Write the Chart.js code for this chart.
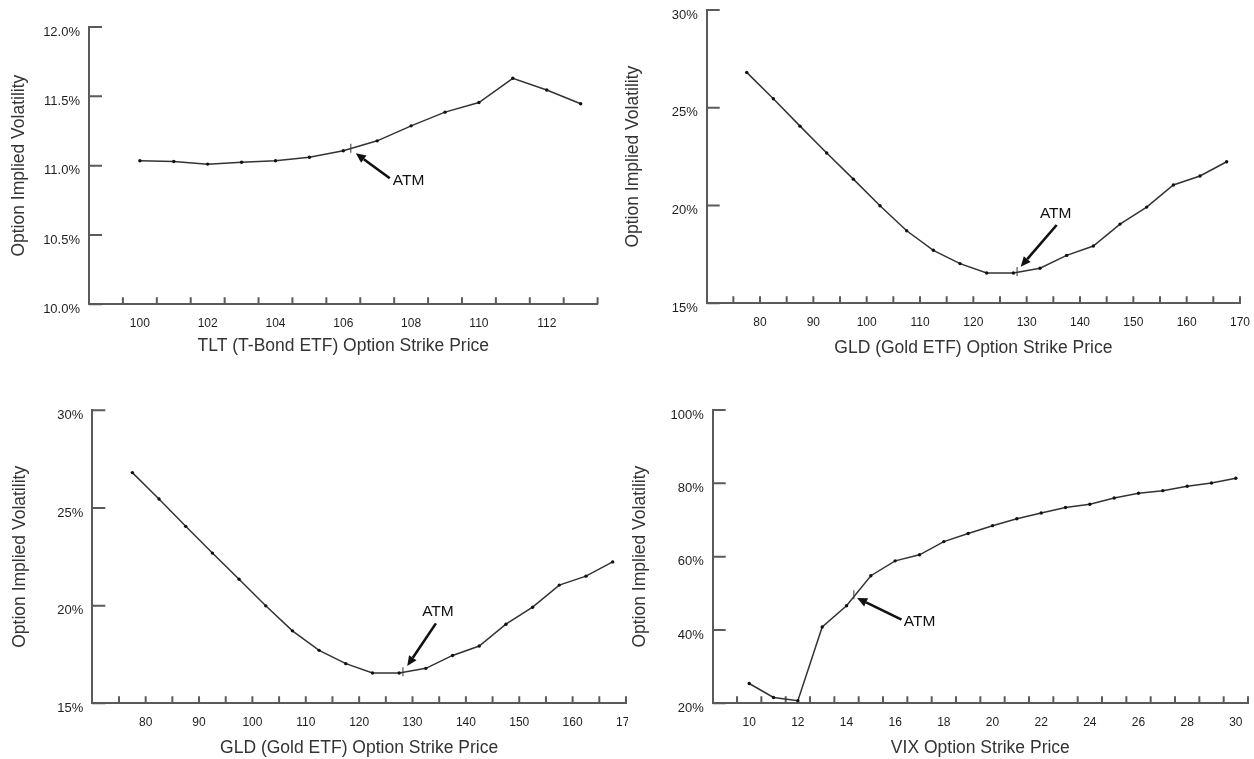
<!DOCTYPE html>
<html>
<head>
<meta charset="utf-8">
<script src="https://cdn.jsdelivr.net/npm/chart.js@4.4.1/dist/chart.umd.min.js"></script>
<style>
  html, body { margin: 0; padding: 0; background: #fff; }
  body { width: 1254px; height: 759px; position: relative; overflow: hidden; }
  .panel { position: absolute; overflow: hidden; }
  canvas { display: block; }
</style>
</head>
<body>
<div class="panel" style="left:0;top:0;width:620px;height:370px"><canvas id="tlt" width="620" height="370"></canvas></div>
<div class="panel" style="left:620px;top:0;width:634px;height:370px"><canvas id="gldTop" width="634" height="370"></canvas></div>
<div class="panel" style="left:0;top:380px;width:628px;height:379px"><canvas id="gldBottom" width="660" height="379"></canvas></div>
<div class="panel" style="left:620px;top:380px;width:634px;height:379px"><canvas id="vix" width="634" height="379"></canvas></div>

<script>
// TLT (T-Bond ETF) skew
const tltStrikes = [100, 101, 102, 103, 104, 105, 106, 107, 108, 109, 110, 111, 112, 113]
const tltVol = [11.035, 11.03, 11.011, 11.025, 11.035, 11.061, 11.107, 11.179, 11.287, 11.386, 11.455, 11.63, 11.546, 11.446]
const tltAtm = [106.22, 11.125]
const tltXLabels = [100, 102, 104, 106, 108, 110, 112]
const tltXMarks = [99.5, 100.5, 101.5, 102.5, 103.5, 104.5, 105.5, 106.5, 107.5, 108.5, 109.5, 110.5, 111.5, 112.5, 113.5]
const tltYLabels = [10, 10.5, 11, 11.5, 12]

// GLD (Gold ETF) skew
const gldStrikes = [77.5, 82.5, 87.5, 92.5, 97.5, 102.5, 107.5, 112.5, 117.5, 122.5, 127.5, 132.5, 137.5, 142.5, 147.5, 152.5, 157.5, 162.5, 167.5]
const gldVol = [26.81, 25.46, 24.06, 22.69, 21.35, 19.99, 18.71, 17.71, 17.03, 16.55, 16.55, 16.79, 17.45, 17.93, 19.05, 19.92, 21.05, 21.51, 22.24]
const gldAtm = [128.2, 16.62]
const gldXLabels = [80, 90, 100, 110, 120, 130, 140, 150, 160, 170]
const gldXMarks = [75, 80, 85, 90, 95, 100, 105, 110, 115, 120, 125, 130, 135, 140, 145, 150, 155, 160, 165, 170]
const gldYLabels = [15, 20, 25, 30]

// VIX skew
const vixStrikes = [10, 11, 12, 13, 14, 15, 16, 17, 18, 19, 20, 21, 22, 23, 24, 25, 26, 27, 28, 29, 30]
const vixVol = [25.4, 21.6, 20.7, 40.8, 46.6, 54.8, 58.85, 60.5, 64.1, 66.3, 68.45, 70.35, 71.9, 73.4, 74.3, 76.0, 77.3, 78.0, 79.2, 80.1, 81.4]
const vixAtm = [14.3, 49.6]
const vixXLabels = [10, 12, 14, 16, 18, 20, 22, 24, 26, 28, 30]
const vixXMarks = [9.5, 10.5, 11.5, 12.5, 13.5, 14.5, 15.5, 16.5, 17.5, 18.5, 19.5, 20.5, 21.5, 22.5, 23.5, 24.5, 25.5, 26.5, 27.5, 28.5, 29.5, 30.5]
const vixYLabels = [20, 40, 60, 80, 100]

const yTitle = "Option Implied Volatility"

const INK = "#333333"
const AXIS = "#5a5a5a"
const LABEL = "#1e1e1e"
const FONT = "'Liberation Sans', Arial, Helvetica, sans-serif"

Chart.defaults.font.family = FONT

// 坐标轴内侧刻度（x 轴向上，y 轴向右）
const innerTicks = {
  id: "innerTicks",
  beforeDatasetsDraw(chart, args, opts) {
    const { ctx, chartArea: area, scales: { x, y } } = chart
    ctx.save()
    ctx.strokeStyle = AXIS
    ctx.lineWidth = 2
    ctx.beginPath()
    for (const v of opts.xMarks) {
      const px = x.getPixelForValue(v)
      ctx.moveTo(px, area.bottom)
      ctx.lineTo(px, area.bottom - 7)
    }
    for (const t of y.ticks) {
      const py = y.getPixelForValue(t.value)
      ctx.moveTo(area.left, py)
      ctx.lineTo(area.left + 13, py)
    }
    ctx.stroke()
    ctx.restore()
  }
}

// ATM 箭头 + 文字
const atmArrow = {
  id: "atmArrow",
  afterDatasetsDraw(chart, args, opts) {
    const { ctx, scales: { x, y } } = chart
    const px = x.getPixelForValue(opts.at[0])
    const py = y.getPixelForValue(opts.at[1])
    const hx = px + opts.head[0], hy = py + opts.head[1]
    const tx = hx + opts.tail[0], ty = hy + opts.tail[1]
    const ang = Math.atan2(hy - ty, hx - tx)
    const len = 10, half = 4.5
    const bx = hx - len * Math.cos(ang), by = hy - len * Math.sin(ang)
    ctx.save()
    ctx.strokeStyle = "#111"
    ctx.fillStyle = "#111"
    ctx.lineWidth = 2.6
    ctx.beginPath()
    ctx.moveTo(tx, ty)
    ctx.lineTo(bx, by)
    ctx.stroke()
    ctx.beginPath()
    ctx.moveTo(hx, hy)
    ctx.lineTo(bx + half * Math.sin(ang), by - half * Math.cos(ang))
    ctx.lineTo(bx - half * Math.sin(ang), by + half * Math.cos(ang))
    ctx.closePath()
    ctx.fill()
    ctx.font = "15.5px " + FONT
    ctx.textAlign = opts.align
    ctx.textBaseline = "middle"
    ctx.fillText("ATM", tx + opts.text[0], ty + opts.text[1])
    ctx.restore()
  }
}

function makeChart(id, c) {
  const line = c.strikes.map((s, i) => ({ x: s, y: c.vol[i] }))
  return new Chart(document.getElementById(id), {
    type: "line",
    data: {
      datasets: [
        {
          data: line,
          borderColor: INK,
          borderWidth: 1.5,
          pointRadius: 1.7,
          pointBackgroundColor: "#111",
          pointBorderWidth: 0,
          tension: 0
        },
        {
          data: [{ x: c.atm[0], y: c.atm[1] }],
          showLine: false,
          pointStyle: "line",
          rotation: 90,
          pointRadius: 4.5,
          pointBorderColor: "#555",
          pointBorderWidth: 1.2
        }
      ]
    },
    options: {
      responsive: false,
      animation: false,
      events: [],
      layout: { padding: c.pad },
      plugins: {
        legend: { display: false },
        tooltip: { enabled: false },
        innerTicks: { xMarks: c.xMarks },
        atmArrow: c.arrow
      },
      scales: {
        x: {
          type: "linear",
          min: c.xMin,
          max: c.xMax,
          afterBuildTicks: (s) => { s.ticks = c.xLabels.map((v) => ({ value: v })) },
          afterFit: (s) => { s.height = c.xHeight; s.paddingLeft = 0; s.paddingRight = 0 },
          grid: { display: false, drawTicks: false },
          border: { display: true, color: AXIS, width: 2 },
          ticks: {
            autoSkip: false,
            maxRotation: 0,
            padding: 12,
            color: LABEL,
            font: { size: 12 },
            callback: (v) => String(v)
          },
          title: {
            display: true,
            text: c.xTitle,
            color: INK,
            font: { size: 17.5 },
            padding: { top: 0, bottom: c.xTitlePad }
          }
        },
        y: {
          type: "linear",
          min: c.yLabels[0],
          max: c.yLabels[c.yLabels.length - 1],
          afterBuildTicks: (s) => { s.ticks = c.yLabels.map((v) => ({ value: v })) },
          afterFit: (s) => { s.width = c.yWidth; s.paddingTop = 0; s.paddingBottom = 0 },
          grid: { display: false, drawTicks: false },
          border: { display: true, color: AXIS, width: 2 },
          ticks: {
            padding: 9,
            labelOffset: 5,
            color: LABEL,
            font: { size: 13 },
            callback: c.yFormat
          },
          title: {
            display: true,
            text: yTitle,
            color: INK,
            font: { size: 17.5 },
            padding: { top: 0, bottom: 0 }
          }
        }
      }
    },
    plugins: [innerTicks, atmArrow]
  })
}

makeChart("tlt", {
  strikes: tltStrikes, vol: tltVol, atm: tltAtm,
  xLabels: tltXLabels, xMarks: tltXMarks, yLabels: tltYLabels,
  xMin: 98.5, xMax: 113.5,
  xTitle: "TLT (T-Bond ETF) Option Strike Price",
  yFormat: (v) => v.toFixed(1) + "%",
  pad: { left: 8.5, top: 27, right: 22.4, bottom: 0 },
  yWidth: 80.5, xHeight: 65.7, xTitlePad: 13,
  arrow: { at: tltAtm, head: [5, 5], tail: [34, 25], text: [3, 2], align: "left" }
})

makeChart("gldTop", {
  strikes: gldStrikes, vol: gldVol, atm: gldAtm,
  xLabels: gldXLabels, xMarks: gldXMarks, yLabels: gldYLabels,
  xMin: 70, xMax: 170,
  xTitle: "GLD (Gold ETF) Option Strike Price",
  yFormat: (v) => v + "%",
  pad: { left: 2.5, top: 10, right: 14, bottom: 0 },
  yWidth: 84.2, xHeight: 66.7, xTitlePad: 11.2,
  arrow: { at: gldAtm, head: [3.6, -4.9], tail: [36, -41.7], text: [-1, -11.7], align: "center" }
})

makeChart("gldBottom", {
  strikes: gldStrikes, vol: gldVol, atm: gldAtm,
  xLabels: gldXLabels, xMarks: gldXMarks, yLabels: gldYLabels,
  xMin: 70, xMax: 170,
  xTitle: "GLD (Gold ETF) Option Strike Price",
  yFormat: (v) => v + "%",
  pad: { left: 9.5, top: 30.3, right: 34, bottom: 0 },
  yWidth: 82.8, xHeight: 55.7, xTitlePad: 0.2,
  arrow: { at: gldAtm, head: [4.3, -5.6], tail: [28.7, -42.7], text: [2, -11.6], align: "center" }
})

makeChart("vix", {
  strikes: vixStrikes, vol: vixVol, atm: vixAtm,
  xLabels: vixXLabels, xMarks: vixXMarks, yLabels: vixYLabels,
  xMin: 8.5, xMax: 30.5,
  xTitle: "VIX Option Strike Price",
  yFormat: (v) => v + "%",
  pad: { left: 9.5, top: 30, right: 6, bottom: 0 },
  yWidth: 83.2, xHeight: 55.7, xTitlePad: 0.2,
  arrow: { at: vixAtm, head: [3.3, 3.2], tail: [44.4, 21.7], text: [2.3, 1.7], align: "left" }
})
</script>
</body>
</html>
